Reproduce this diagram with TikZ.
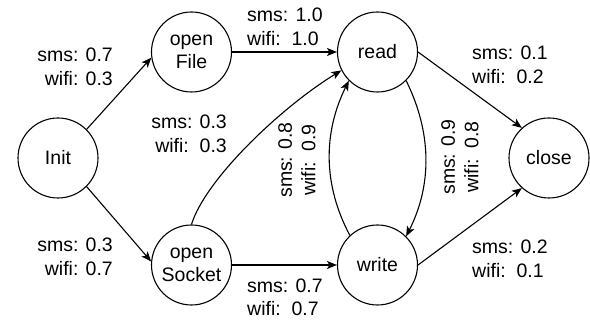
\documentclass[tikz,border=0pt]{standalone}
\usepackage{fontspec}
\setmainfont{Liberation Sans}
\usetikzlibrary{arrows.meta}
\newcommand\fsz{\fontsize{19.5}{23.5}\selectfont}
\begin{document}
\begin{tikzpicture}[x=1pt,y=-1pt,
  state/.style={circle,draw,line width=1.1pt,minimum size=80pt,inner sep=0pt,align=center,font=\fsz},
  lbl/.style={inner sep=0pt,font=\fsz},
  edge/.style={line width=1.1pt,-{Stealth[length=10pt,width=8pt,inset=2.5pt]}}]
\useasboundingbox (0,0) rectangle (590,320);
% states
\node[state] (init)  at (58,158)    {Init};
\node[state] (oF)    at (191.5,52)  {open\\File};
\node[state] (read)  at (377.5,52)  {read};
\node[state] (close) at (549,158)   {close};
\node[state] (oS)    at (191.5,265) {open\\Socket};
\node[state] (write) at (377.5,265) {write};
% transitions
\draw[edge] (init.45) -- (oF.188);
\draw[edge] (init.-45) -- (oS.175);
\draw[edge] (oF.east) -- (read.west);
\draw[edge] (oS.east) -- (write.west);
\draw[edge] (oS.north) .. controls (205,180) and (280,108) .. (read.207);
\draw[edge] (write.133) .. controls (323,185) and (323,133) .. (read.225);
\draw[edge] (read.-45) .. controls (432,133) and (432,185) .. (write.45);
\draw[edge] (read.east) -- (close.132);
\draw[edge] (write.east) -- (close.228);
% labels
\node[lbl,anchor=east,align=right] (l1) at (113,67) {sms: 0.7\\wifi: 0.3};
\node[lbl,anchor=east,align=right] (l2) at (113,257) {sms: 0.3\\wifi: 0.7};
\node[lbl,anchor=west,align=left] (l3) at (247,27) {sms: 1.0\\wifi:\ \ 1.0};
\node[lbl,anchor=east,align=right] (l4) at (227,134) {sms: 0.3\\wifi:\ \ 0.3};
\node[lbl,rotate=90,align=center] (l5) at (297,160) {sms: 0.8\\wifi:\ \ 0.9};
\node[lbl,rotate=90,align=center] (l6) at (460,157) {sms: 0.9\\wifi:\ \ 0.8};
\node[lbl,anchor=west,align=left] (l7) at (247,297.5) {sms: 0.7\\wifi:\ \ 0.7};
\node[lbl,anchor=west,align=left] (l8) at (472,65) {sms: 0.1\\wifi:\ \ 0.2};
\node[lbl,anchor=west,align=left] (l9) at (472,259) {sms: 0.2\\wifi:\ \ 0.1};
\end{tikzpicture}
\end{document}
